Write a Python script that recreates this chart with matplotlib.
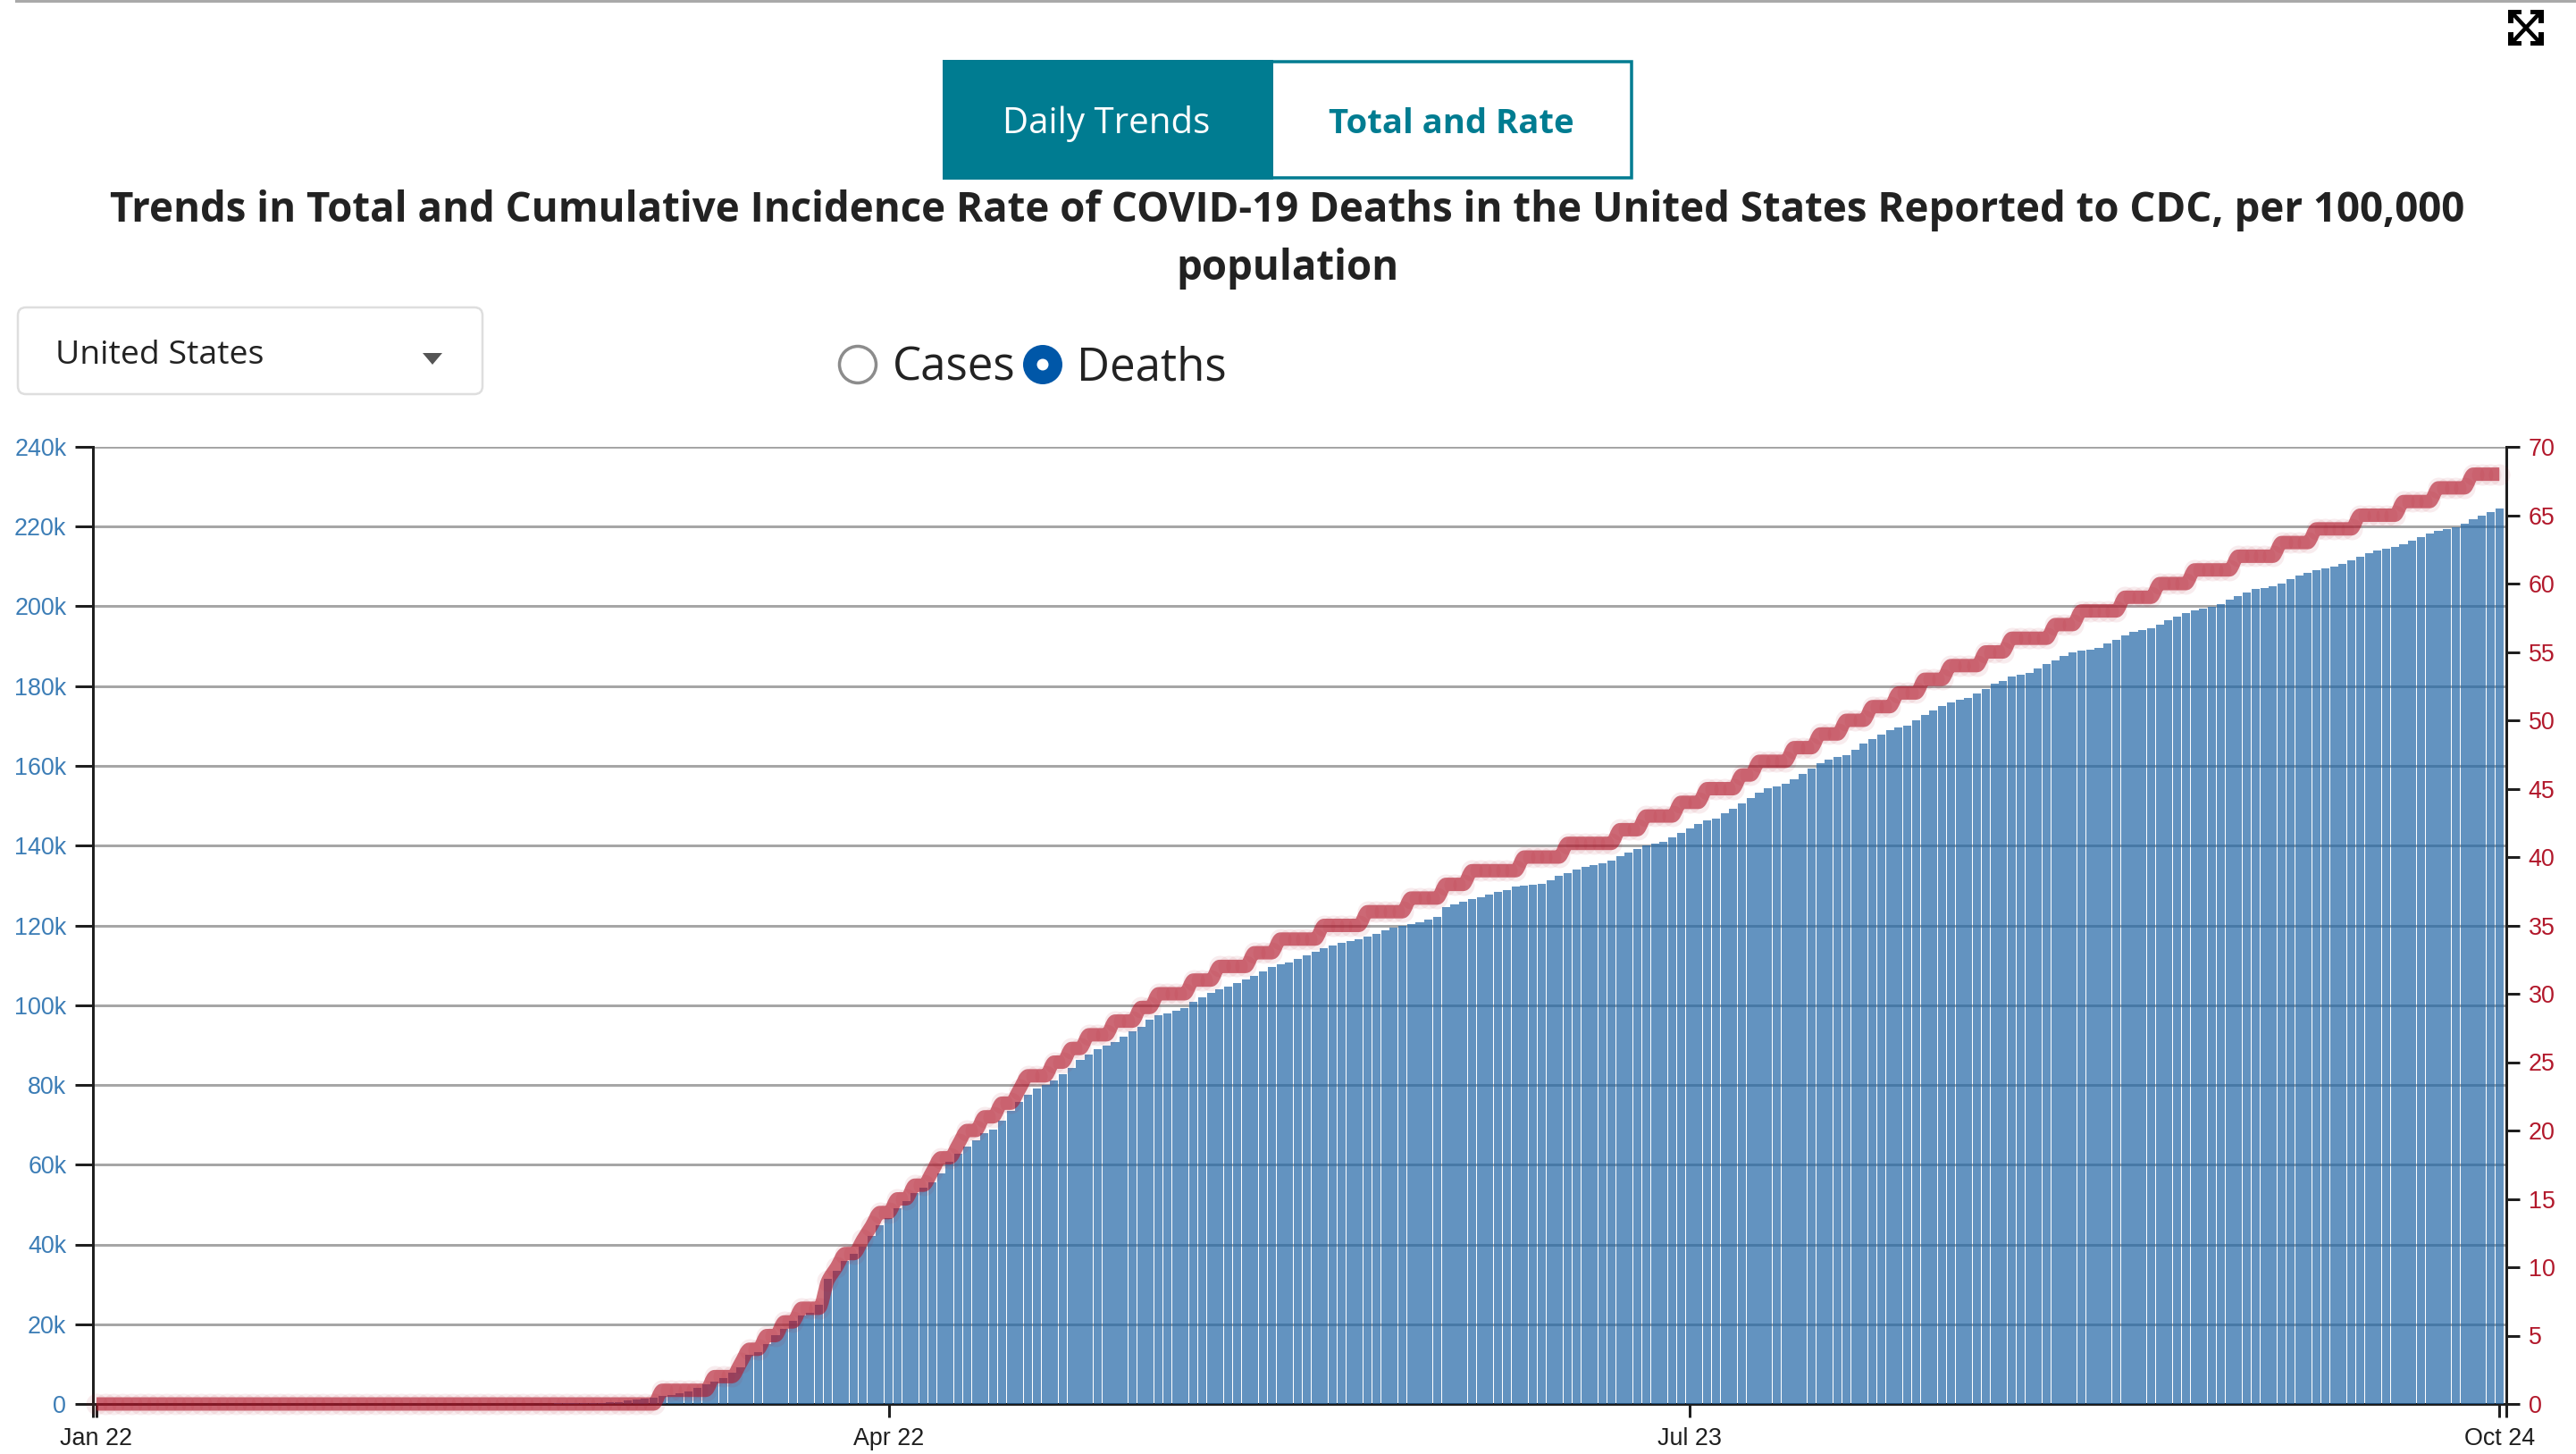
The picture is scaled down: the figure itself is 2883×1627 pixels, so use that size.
import numpy as np
import matplotlib
matplotlib.use("Agg")
import matplotlib.pyplot as plt
from matplotlib.patches import Rectangle, FancyBboxPatch, Circle, Polygon, PathPatch
from matplotlib.path import Path

W, H = 2883, 1627

# cumulative deaths in thousands, one bar per day from Jan 22
deaths_k = [
    0, 0, 0, 0, 0, 0, 0, 0, 0, 0, 0, 0, 0, 0, 0, 0, 0, 0,
    0, 0, 0, 0, 0, 0, 0, 0, 0, 0, 0, 0, 0, 0, 0, 0, 0, 0, 0, 0,
    0.02, 0.02, 0.03, 0.03, 0.04, 0.04, 0.05, 0.05, 0.06, 0.06, 0.07, 0.08,
    0.09, 0.1, 0.11, 0.12, 0.14, 0.16, 0.18, 0.25, 0.3, 0.4, 0.55,
    0.8, 1.1, 1.35, 1.6, 1.95, 2.3, 2.6, 3.05, 4.0, 4.9, 5.5, 6.6, 7.8, 9.2,
    12.3, 12.9, 15.0, 17.3, 18.9, 20.8, 22.2, 22.8, 24.9, 31.4, 33.5, 35.9,
    37.6, 39.4, 42.2, 44.8, 46.7, 49.1, 50.9, 52.9, 54.2, 55.6, 57.9, 60.7,
    62.7, 64.6, 66.2, 67.8, 68.8, 71.0, 73.5, 75.7, 77.5, 79.1, 80.1, 81.1,
    82.7, 84.3, 86.3, 87.6, 89.0, 89.9, 90.8, 92.1, 93.4, 94.6, 96.4, 97.5,
    97.9, 98.6, 99.3, 100.8, 102.0, 103.1, 104.0, 104.6, 105.5, 106.4, 107.3,
    108.5, 109.6, 110.2, 110.7, 111.6, 112.5, 113.4, 114.3, 115.0, 115.6,
    116.0, 116.5, 117.2, 117.8, 118.7, 119.4, 119.9, 120.3, 120.7, 121.4,
    122.1, 124.6, 125.2, 125.9, 126.6, 127.0, 127.7, 128.4, 128.8, 129.7,
    129.9, 130.2, 130.4, 131.3, 132.4, 133.1, 134.0, 134.6, 135.1, 135.5,
    136.2, 137.3, 138.2, 139.1, 140.0, 140.5, 140.9, 142.0, 143.2, 144.3,
    145.4, 146.3, 146.7, 148.1, 149.2, 150.5, 151.9, 153.2, 154.3, 154.8,
    155.5, 156.6, 157.9, 159.3, 160.6, 161.5, 162.2, 162.6, 164.0, 165.5,
    166.7, 167.8, 168.9, 169.6, 170.0, 171.4, 172.7, 173.8, 175.0, 175.8,
    176.5, 177.0, 178.1, 179.2, 180.6, 181.4, 182.3, 182.8, 183.2, 184.4,
    185.5, 186.4, 187.6, 188.5, 188.9, 189.2, 189.6, 190.7, 191.6, 192.8,
    193.7, 194.1, 194.5, 195.4, 196.6, 197.5, 198.4, 199.0, 199.5, 199.9,
    200.6, 201.7, 202.6, 203.5, 204.4, 204.6, 205.1, 205.8, 206.9, 207.8,
    208.4, 209.1, 209.6, 210.0, 210.7, 211.6, 212.5, 213.4, 214.0, 214.5,
    214.9, 215.6, 216.5, 217.4, 218.3, 219.0, 219.4, 219.9, 220.8, 221.9,
    222.8, 223.7, 224.6,
]

# incidence rate per 100,000, reported as whole numbers
rate = [
    0, 0, 0, 0, 0, 0, 0, 0, 0, 0, 0, 0, 0, 0, 0, 0, 0, 0, 0, 0, 0, 0,
    0, 0, 0, 0, 0, 0, 0, 0, 0, 0, 0, 0, 0, 0, 0, 0, 0, 0, 0, 0, 0, 0,
    0, 0, 0, 0, 0, 0, 0, 0, 0, 0, 0, 0, 0, 0, 0, 0, 0, 0, 0, 0, 0,
    1, 1, 1, 1, 1, 1, 2, 2, 2, 3, 4, 4, 5, 5, 6, 6, 7, 7, 7, 9, 10, 11, 11,
    12, 13, 14, 14, 15, 15, 16, 16, 17, 18, 18, 19, 20, 20, 21, 21, 22, 22,
    23, 24, 24, 24, 25, 25, 26, 26, 27, 27, 27, 28, 28, 28, 29, 29,
    30, 30, 30, 30, 31, 31, 31, 32, 32, 32, 32, 33, 33, 33,
    34, 34, 34, 34, 34, 35, 35, 35, 35, 35, 36, 36, 36, 36, 36,
    37, 37, 37, 37, 38, 38, 38, 39, 39, 39, 39, 39, 39,
    40, 40, 40, 40, 40, 41, 41, 41, 41, 41, 41, 42, 42, 42,
    43, 43, 43, 43, 44, 44, 44, 45, 45, 45, 45, 46, 46,
    47, 47, 47, 47, 48, 48, 48, 49, 49, 49, 50, 50, 50, 51, 51, 51,
    52, 52, 52, 53, 53, 53, 54, 54, 54, 54, 55, 55, 55,
    56, 56, 56, 56, 56, 57, 57, 57, 58, 58, 58, 58, 58,
    59, 59, 59, 59, 60, 60, 60, 60, 61, 61, 61, 61, 61,
    62, 62, 62, 62, 62, 63, 63, 63, 63, 64, 64, 64, 64, 64,
    65, 65, 65, 65, 65, 66, 66, 66, 66, 67, 67, 67, 67, 68, 68, 68, 68,
]

date_ticks = [0, 91, 183, 276]
date_labels = ["Jan 22", "Apr 22", "Jul 23", "Oct 24"]
left_ticks = list(range(0, 240001, 20000))
left_labels = ["0"] + [f"{v // 1000}k" for v in left_ticks[1:]]
right_ticks = list(range(0, 71, 5))

BLUE = "#2166a6"
RED = "#b2182b"
TEAL = "#007c91"
GRID = "#a6a6a6"
DARK = "#1f1f1f"
PX = 0.72  # points per pixel at dpi 100


def monotone_path(x, y):
    # same curve d3 draws with curveMonotoneX
    x = np.asarray(x, float)
    y = np.asarray(y, float)
    dx = np.diff(x)
    s = np.diff(y) / dx
    m = np.zeros(len(x))
    for i in range(1, len(x) - 1):
        if s[i - 1] * s[i] > 0:
            m[i] = 2 * s[i - 1] * s[i] / (s[i - 1] + s[i])
    verts = [(x[0], y[0])]
    codes = [Path.MOVETO]
    for i in range(len(dx)):
        verts += [(x[i] + dx[i] / 3, y[i] + m[i] * dx[i] / 3),
                  (x[i + 1] - dx[i] / 3, y[i + 1] - m[i + 1] * dx[i] / 3),
                  (x[i + 1], y[i + 1])]
        codes += [Path.CURVE4] * 3
    return Path(verts, codes)


plt.rcParams["font.family"] = ["Liberation Sans", "DejaVu Sans"]
fig = plt.figure(figsize=(W / 100, H / 100), dpi=100, facecolor="white")

ax_left, ax_right, ax_top, ax_bottom = 104, 2805, 500, 1571
ax = fig.add_axes([ax_left / W, 1 - ax_bottom / H, (ax_right - ax_left) / W, (ax_bottom - ax_top) / H])
days = np.arange(len(deaths_k))
ax.bar(days, np.array(deaths_k) * 1000, width=0.93, color=BLUE, alpha=0.7, linewidth=0, zorder=3)
x0, x1 = -0.41, 276.8
ax.set_xlim(x0, x1)
ax.set_ylim(0, 240000)
ax.set_yticks(left_ticks)
ax.set_yticklabels(left_labels, color="#3c7db6", fontsize=19.4)
ax.set_xticks(date_ticks)
ax.set_xticklabels(date_labels, color=DARK, fontsize=19.4)
ax.set_xticks([x0, x1], minor=True)
ax.tick_params(axis="x", which="both", length=15 * PX, width=3 * PX, color=DARK, pad=8)
ax.tick_params(axis="y", length=20 * PX, width=3 * PX, color=DARK, pad=7)
ax.yaxis.grid(True, color=GRID, linewidth=3 * PX, zorder=1)
ax.set_axisbelow(True)
ax.spines["top"].set_visible(False)
for side in ["left", "right", "bottom"]:
    ax.spines[side].set_color(DARK)
    ax.spines[side].set_linewidth(3 * PX)

ax2 = ax.twinx()
ax2.set_ylim(0, 70)
ax2.set_yticks(right_ticks)
ax2.set_yticklabels([str(v) for v in right_ticks], color=RED, fontsize=19.4)
ax2.tick_params(axis="y", length=15 * PX, width=3 * PX, color=DARK, pad=7)
for side in ax2.spines:
    ax2.spines[side].set_visible(False)
ax2.scatter(days, rate, s=(24 * PX) ** 2, color=RED, alpha=0.08, linewidths=0, clip_on=False, zorder=4)
ax2.add_patch(PathPatch(monotone_path(days, rate), fill=False, edgecolor=RED, alpha=0.62,
                        linewidth=15 * PX, capstyle="butt", joinstyle="round",
                        clip_on=False, zorder=5))

# page furniture around the chart, drawn in pixel coordinates
ui = fig.add_axes([0, 0, 1, 1], facecolor="none")
ui.set_xlim(0, W)
ui.set_ylim(H, 0)
ui.axis("off")

ui.add_patch(Rectangle((17, 0), W - 17, 3, color="#a9a9a9", linewidth=0))

ui.add_patch(Rectangle((1057, 69), 769, 130, facecolor="white", edgecolor=TEAL, linewidth=3.5 * PX))
ui.add_patch(Rectangle((1055, 67), 370, 134, facecolor=TEAL, linewidth=0))
ui.text(1238, 149, "Daily Trends", color="white", family="Open Sans", fontsize=29, ha="center", va="baseline")
ui.text(1624, 149, "Total and Rate", color=TEAL, family="Open Sans", fontsize=27.5, weight="bold",
        ha="center", va="baseline")

ui.text(1441, 248, "Trends in Total and Cumulative Incidence Rate of COVID-19 Deaths in the United States Reported to CDC, per 100,000",
        color="#222222", family="Open Sans", fontsize=32.85, weight="bold", ha="center", va="baseline")
ui.text(1441, 313, "population", color="#222222", family="Open Sans", fontsize=32.85, weight="bold",
        ha="center", va="baseline")

ui.add_patch(FancyBboxPatch((20, 344), 520, 97, boxstyle="round,pad=0,rounding_size=9",
                            facecolor="white", edgecolor="#dedede", linewidth=2.5 * PX))
ui.text(62, 407, "United States", color="#222222", family="Open Sans", fontsize=26.9, va="baseline")
ui.add_patch(Polygon([(473, 395), (495, 395), (484, 408)], color="#555555", linewidth=0))

ui.add_patch(Circle((960, 408), 20.5, facecolor="white", edgecolor="#8c8c8c", linewidth=3.5 * PX))
ui.text(999, 425, "Cases", color="#222222", family="Open Sans", fontsize=36.7, va="baseline")
ui.add_patch(Circle((1167, 408), 22, facecolor="#0057a8", linewidth=0))
ui.add_patch(Circle((1167, 408), 6.5, facecolor="white", linewidth=0))
ui.text(1205, 425, "Deaths", color="#222222", family="Open Sans", fontsize=36.7, va="baseline")

# expand icon
ui.plot([2812, 2842], [15, 47], color="black", linewidth=4.5 * PX)
ui.plot([2842, 2812], [15, 47], color="black", linewidth=4.5 * PX)
for cx, cy, sx, sy in [(2807, 11, 1, 1), (2847, 11, -1, 1), (2807, 51, 1, -1), (2847, 51, -1, -1)]:
    ui.add_patch(Polygon([(cx, cy), (cx + sx * 15, cy), (cx + sx * 15, cy + sy * 5), (cx + sx * 6, cy + sy * 5),
                          (cx + sx * 6, cy + sy * 15), (cx, cy + sy * 15)], color="black", linewidth=0))

fig.savefig("out.png", dpi=100)
